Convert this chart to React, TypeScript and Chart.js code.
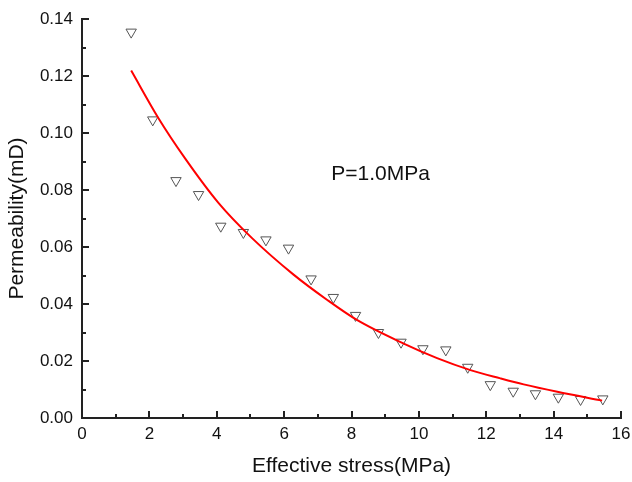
import React, { useEffect, useRef } from 'react';
import { Chart, registerables } from 'chart.js';

Chart.register(...registerables);

// Measured data (effective stress in MPa, permeability in mD)
const stressValues = [1.46, 2.10, 2.79, 3.46, 4.12, 4.79, 5.46, 6.13, 6.80, 7.46, 8.12, 8.80, 9.47, 10.12, 10.80, 11.45, 12.12, 12.80, 13.46, 14.14, 14.80, 15.46];
const permeabilityValues = [0.1354, 0.1046, 0.0833, 0.0784, 0.0673, 0.0651, 0.0625, 0.0596, 0.0488, 0.0423, 0.0360, 0.0300, 0.0266, 0.0243, 0.0239, 0.0178, 0.0117, 0.0094, 0.0085, 0.0073, 0.0065, 0.0067];

// Fitted curve
const fitStress = [1.46, 2.27, 3.06, 4.05, 5.04, 6.28, 7.27, 8.16, 9.55, 10.54, 11.53, 12.42, 13.11, 14.11, 15.44];
const fitPermeability = [0.1219, 0.1052, 0.0911, 0.0755, 0.0632, 0.0503, 0.0415, 0.0344, 0.0261, 0.0210, 0.0168, 0.0139, 0.0118, 0.0092, 0.0061];

const xTickValues = [0, 2, 4, 6, 8, 10, 12, 14, 16];
const yTickValues = [0, 0.02, 0.04, 0.06, 0.08, 0.10, 0.12, 0.14];

const xTitle = 'Effective stress(MPa)';
const yTitle = 'Permeability(mD)';
const annotationText = 'P=1.0MPa';
const annotationPos = { x: 7.4, y: 0.0856 };

const FONT = "Arial, 'Liberation Sans', Helvetica, sans-serif";
const TEXT = '#111111';
const AXIS = '#222222';

const inwardTicks = {
  id: 'inwardTicks',
  afterDraw(chart: any) {
    const { ctx, chartArea, scales } = chart;
    const xs = scales.x;
    const ys = scales.y;
    ctx.save();
    ctx.strokeStyle = AXIS;
    ctx.lineWidth = 2;
    ctx.beginPath();
    const xMin = xTickValues[0];
    const xMax = xTickValues[xTickValues.length - 1];
    const xStep = (xTickValues[1] - xTickValues[0]) / 2;
    for (let i = 0; xMin + i * xStep <= xMax + 1e-9; i++) {
      const px = Math.round(xs.getPixelForValue(xMin + i * xStep));
      const len = i % 2 === 0 ? 7 : 4;
      ctx.moveTo(px, chartArea.bottom);
      ctx.lineTo(px, chartArea.bottom - len);
    }
    const yMin = yTickValues[0];
    const yMax = yTickValues[yTickValues.length - 1];
    const yStep = (yTickValues[1] - yTickValues[0]) / 2;
    for (let i = 0; yMin + i * yStep <= yMax + 1e-9; i++) {
      const py = Math.round(ys.getPixelForValue(yMin + i * yStep));
      const len = i % 2 === 0 ? 7 : 4;
      ctx.moveTo(chartArea.left, py);
      ctx.lineTo(chartArea.left + len, py);
    }
    ctx.stroke();

    ctx.fillStyle = TEXT;
    ctx.font = `21px ${FONT}`;
    ctx.textAlign = 'left';
    ctx.textBaseline = 'middle';
    ctx.fillText(annotationText, xs.getPixelForValue(annotationPos.x), ys.getPixelForValue(annotationPos.y));
    ctx.restore();
  },
};

export default function App() {
  const canvasRef = useRef<HTMLCanvasElement | null>(null);

  useEffect(() => {
    if (!canvasRef.current) return;
    const chart = new Chart(canvasRef.current, {
      type: 'scatter',
      data: {
        datasets: [
          {
            label: 'Fit',
            data: fitStress.map((x, i) => ({ x, y: fitPermeability[i] })),
            showLine: true,
            borderColor: '#ff0000',
            borderWidth: 2,
            pointRadius: 0,
            tension: 0.4,
            cubicInterpolationMode: 'monotone',
            order: 0,
          },
          {
            label: 'Measured',
            data: stressValues.map((x, i) => ({ x, y: permeabilityValues[i] })),
            pointStyle: 'triangle',
            rotation: 180,
            pointRadius: 6,
            borderColor: '#555555',
            borderWidth: 1,
            backgroundColor: 'rgba(255,255,255,0)',
            order: 1,
          } as any,
        ],
      },
      options: {
        animation: false,
        responsive: false,
        devicePixelRatio: 1,
        layout: { padding: { top: 19, right: 11, left: 0, bottom: 0 } },
        plugins: { legend: { display: false }, tooltip: { enabled: false } },
        scales: {
          x: {
            type: 'linear',
            min: xTickValues[0],
            max: xTickValues[xTickValues.length - 1],
            afterBuildTicks: (s: any) => { s.ticks = xTickValues.map((v) => ({ value: v })); },
            ticks: {
              font: { size: 17, family: FONT },
              color: TEXT,
              padding: 6,
              maxRotation: 0,
              callback: (v: any) => String(v),
            },
            grid: { display: false, drawTicks: false },
            border: { display: true, color: AXIS, width: 2 },
            title: {
              display: true,
              text: xTitle,
              color: TEXT,
              font: { size: 21, family: FONT },
              padding: { top: 0, bottom: 3 },
            },
            afterFit: (s: any) => {
              s.height = 64;
              s.paddingLeft = 0; s.paddingRight = 0; s.paddingTop = 0; s.paddingBottom = 0;
            },
          },
          y: {
            type: 'linear',
            min: yTickValues[0],
            max: yTickValues[yTickValues.length - 1],
            afterBuildTicks: (s: any) => { s.ticks = yTickValues.map((v) => ({ value: v })); },
            ticks: {
              font: { size: 17, family: FONT },
              color: TEXT,
              padding: 9,
              callback: (v: any) => Number(v).toFixed(2),
            },
            grid: { display: false, drawTicks: false },
            border: { display: true, color: AXIS, width: 2 },
            title: {
              display: true,
              text: yTitle,
              color: TEXT,
              font: { size: 21, family: FONT },
              padding: { top: 5, bottom: 0 },
            },
            afterFit: (s: any) => {
              s.width = 82;
              s.paddingLeft = 0; s.paddingRight = 0; s.paddingTop = 0; s.paddingBottom = 0;
            },
          },
        },
      },
      plugins: [inwardTicks],
    } as any);
    return () => chart.destroy();
  }, []);

  return (
    <div style={{ position: 'absolute', left: 0, top: 0, width: 632, height: 482, background: '#ffffff' }}>
      <canvas ref={canvasRef} width={632} height={482} />
    </div>
  );
}
